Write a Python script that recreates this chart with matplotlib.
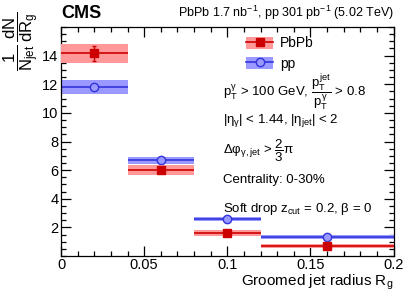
import matplotlib
matplotlib.use("Agg")
import matplotlib.pyplot as plt
import numpy as np
from matplotlib.patches import Patch
from matplotlib.lines import Line2D
from matplotlib.ticker import MultipleLocator

plt.rcParams['font.family'] = ['Liberation Sans', 'DejaVu Sans']
plt.rcParams['mathtext.fontset'] = 'custom'
plt.rcParams['mathtext.rm'] = 'Liberation Sans'
plt.rcParams['mathtext.it'] = 'Liberation Sans'
plt.rcParams['mathtext.bf'] = 'Liberation Sans:bold'
plt.rcParams['mathtext.sf'] = 'Liberation Sans'

# Data
bin_edges = [0.0, 0.04, 0.08, 0.12, 0.2]
marker_x = [0.02, 0.06, 0.10, 0.16]
pbpb_vals = [14.15, 5.99, 1.60, 0.70]
pbpb_stat = [0.55, 0.15, 0.08, 0.06]
pbpb_sys = [0.65, 0.36, 0.20, 0.15]
pp_vals = [11.8, 6.69, 2.58, 1.32]
pp_stat = [0.10, 0.08, 0.05, 0.04]
pp_sys = [0.47, 0.23, 0.16, 0.16]

edges = np.array(bin_edges)
lefts = edges[:-1]
widths = np.diff(edges)

red = '#cc0000'
red_band = '#ff9999'
blue = '#3333dd'
blue_band = '#9999ff'

fig = plt.figure(figsize=(4.07, 2.92), dpi=100)
ax = fig.add_axes([0.150, 0.123, 0.817, 0.7845])

for vals, sys, stat, col, band, mk, mfc, z in [
    (pp_vals, pp_sys, pp_stat, blue, blue_band, 'o', blue_band, 2),
    (pbpb_vals, pbpb_sys, pbpb_stat, red, red_band, 's', red, 3)]:
    v = np.array(vals); s = np.array(sys)
    ax.bar(lefts, 2 * s, bottom=v - s, width=widths, align='edge',
           color=band, edgecolor='none', zorder=z)
    ax.hlines(v, lefts, lefts + widths, color=col, lw=1.2, zorder=z + 0.1)
    ax.errorbar(marker_x, v, yerr=stat, fmt=mk, color=col, mfc=mfc, mec=col,
                ms=6, elinewidth=1.0, capsize=1.5, zorder=z + 0.2)

ax.set_xlim(0, 0.2)
ax.set_ylim(0, 16)
ax.xaxis.set_major_locator(MultipleLocator(0.05))
ax.xaxis.set_minor_locator(MultipleLocator(0.01))
ax.yaxis.set_major_locator(MultipleLocator(2))
ax.yaxis.set_minor_locator(MultipleLocator(0.5))
ax.set_xticks([0, 0.05, 0.1, 0.15, 0.2])
ax.set_xticklabels(['0', '0.05', '0.1', '0.15', '0.2'])
ax.set_yticks([2, 4, 6, 8, 10, 12, 14])
ax.tick_params(which='both', direction='in', top=True, right=True, labelsize=10.5)
ax.tick_params(which='major', length=7, width=0.9)
ax.tick_params(which='minor', length=3.5, width=0.9)
ax.tick_params(axis='y', which='major', pad=2)
ax.tick_params(axis='x', which='major', pad=1.5)
for sp in ax.spines.values():
    sp.set_linewidth(0.9)

ax.set_xlabel(r'Groomed jet radius R$_{\mathregular{g}}$', fontsize=11, ha='right')
ax.xaxis.set_label_coords(1.0, -0.072, transform=ax.transAxes)
ax.xaxis.label.set_va('top')
ax.set_ylabel(r'$\dfrac{1}{N_{jet}}\,\dfrac{dN}{dR_g}$', fontsize=12)
ax.yaxis.label.set_rotation_mode('anchor')
ax.yaxis.label.set_ha('right')
ax.yaxis.label.set_va('center')
ax.yaxis.set_label_coords(-0.12, 1.065, transform=ax.transAxes)

fig.text(0.150, 0.925, 'CMS', fontsize=13, fontweight='bold', ha='left', va='bottom')
fig.text(0.967, 0.925, r'PbPb 1.7 nb$^{-1}$, pp 301 pb$^{-1}$ (5.02 TeV)', fontsize=9,
         ha='right', va='bottom')

h_pbpb = (Patch(facecolor=red_band, edgecolor='none'),
          Line2D([], [], color=red, marker='s', mfc=red, ms=6, lw=1.2))
h_pp = (Patch(facecolor=blue_band, edgecolor='none'),
        Line2D([], [], color=blue, marker='o', mfc=blue_band, ms=6, lw=1.2))
ax.legend([h_pbpb, h_pp], ['PbPb', 'pp'], loc='upper left',
          bbox_to_anchor=(0.53, 0.995), frameon=False, fontsize=10,
          handlelength=2.0, handleheight=1.0, labelspacing=0.45, handletextpad=0.5,
          borderpad=0.1)

tx = 0.487
fs = 9.5
ax.text(tx, 0.72, r'p$_{\mathregular{T}}^{\gamma}$ > 100 GeV, $\dfrac{p_T^{jet}}{p_T^{\gamma}}$ > 0.8',
        transform=ax.transAxes, fontsize=fs, va='center')
ax.text(tx, 0.592, r'|$\eta_{\gamma}$| < 1.44, |$\eta_{jet}$| < 2',
        transform=ax.transAxes, fontsize=fs, va='center')
ax.text(tx, 0.46, r'$\Delta\varphi_{\gamma,jet}$ > $\dfrac{2}{3}\pi$',
        transform=ax.transAxes, fontsize=fs, va='center')
ax.text(tx, 0.33, 'Centrality: 0-30%', transform=ax.transAxes, fontsize=fs, va='center')
ax.text(tx, 0.205, r'Soft drop z$_{\mathregular{cut}}$ = 0.2, $\beta$ = 0',
        transform=ax.transAxes, fontsize=fs, va='center')

fig.savefig('out.png', dpi=100)
